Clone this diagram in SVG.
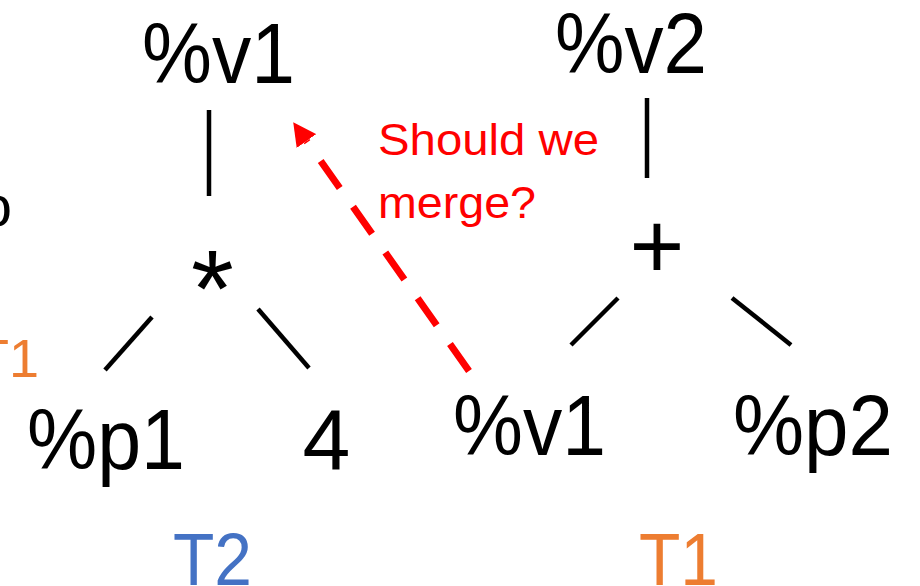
<svg xmlns="http://www.w3.org/2000/svg" width="920" height="586" viewBox="0 0 920 586">
<style>
.t{font-family:"Liberation Sans",Arial,sans-serif;fill:#000;}
.big{font-size:86px;}
.red{font-family:"Liberation Sans",Arial,sans-serif;font-size:45px;fill:#FF0000;}
.edge{stroke:#000;stroke-width:4.5;fill:none;}
.dash{stroke:#FF0000;stroke-width:7;fill:none;stroke-dasharray:33 23;}
</style>
<defs>
<marker id="ah" markerUnits="userSpaceOnUse" viewBox="0 -12 23 24" refX="0" refY="0" markerWidth="23" markerHeight="24" orient="auto">
<path d="M0,-12 L23,0 L0,12 Z" fill="#FF0000"/>
</marker>
</defs>
<rect width="920" height="586" fill="#fff"/>
<g id="partial-left">
<text class="t" x="12" y="226" font-size="58" text-anchor="end">o</text>
<text x="39" y="377" font-family="Liberation Sans,Arial,sans-serif" font-size="54" fill="#ED7D31" text-anchor="end">T1</text>
</g>
<g id="connectors">
<line class="edge" x1="209" y1="110" x2="209" y2="196"/>
<line class="edge" x1="152" y1="317" x2="105" y2="370"/>
<line class="edge" x1="258" y1="309" x2="309" y2="368"/>
<line class="edge" x1="647" y1="98" x2="647" y2="178"/>
<line class="edge" x1="618" y1="298" x2="571" y2="345"/>
<line class="edge" x1="732" y1="298" x2="791" y2="345"/>
<line class="dash" x1="469" y1="371" x2="306.5" y2="141" marker-end="url(#ah)"/>
</g>
<g id="n-v1-top"><text class="t big" x="142" y="83" textLength="153" lengthAdjust="spacingAndGlyphs">%v1</text></g>
<g id="n-mul"><text class="t" x="212.5" y="326" font-size="110" text-anchor="middle">*</text></g>
<g id="n-p1"><text class="t big" x="27" y="469" textLength="158" lengthAdjust="spacingAndGlyphs">%p1</text></g>
<g id="n-4"><text class="t big" x="326.5" y="469" text-anchor="middle">4</text></g>
<g id="n-v2"><text class="t big" x="555" y="73" textLength="152" lengthAdjust="spacingAndGlyphs">%v2</text></g>
<g id="n-plus"><text class="t" x="657" y="278" font-size="94" text-anchor="middle">+</text></g>
<g id="n-v1-right"><text class="t big" x="453" y="455" textLength="153" lengthAdjust="spacingAndGlyphs">%v1</text></g>
<g id="n-p2"><text class="t big" x="733" y="455" textLength="160" lengthAdjust="spacingAndGlyphs">%p2</text></g>
<g id="label-merge">
<text class="red" x="378" y="155" textLength="221" lengthAdjust="spacingAndGlyphs">Should we</text>
<text class="red" x="378" y="218" textLength="158" lengthAdjust="spacingAndGlyphs">merge?</text>
</g>
<g id="label-t2"><text x="173" y="585" font-family="Liberation Sans,Arial,sans-serif" font-size="74" fill="#4472C4" textLength="79" lengthAdjust="spacingAndGlyphs">T2</text></g>
<g id="label-t1"><text x="639" y="585" font-family="Liberation Sans,Arial,sans-serif" font-size="74" fill="#ED7D31" textLength="79" lengthAdjust="spacingAndGlyphs">T1</text></g>
</svg>
